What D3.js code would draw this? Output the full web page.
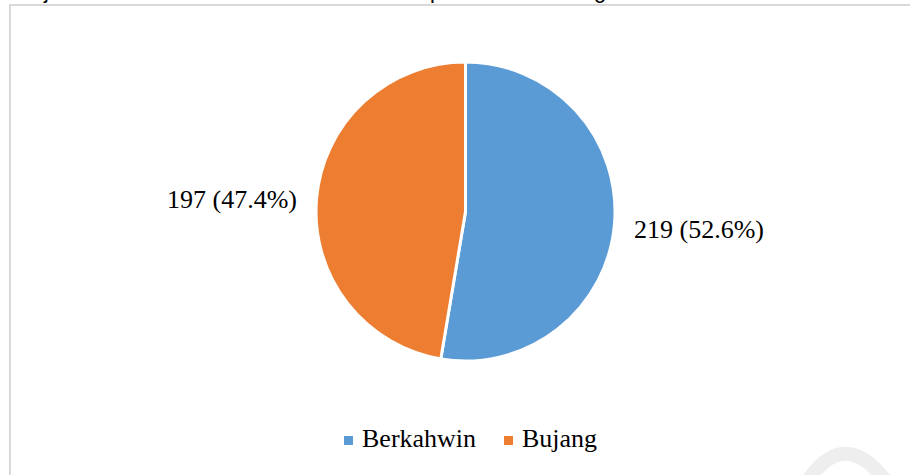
<!DOCTYPE html>
<html><head><meta charset="utf-8">
<script src="https://cdn.jsdelivr.net/npm/d3@7"></script>
<style>html,body{margin:0;padding:0;background:#fff;overflow:hidden}</style>
</head><body>
<svg id="c" width="912" height="475"></svg>
<script>
const categories = ["Berkahwin", "Bujang"];
const values = [219, 197];
const percents = ["52.6%", "47.4%"];
const colors = ["#5b9bd5", "#ed7d31"];

const svg = d3.select("#c");
const W = 912, H = 475;
svg.append("rect").attr("width", W).attr("height", H).attr("fill", "#fff");

// cut-off title descenders above the frame
const topFrag = svg.append("g").attr("font-family", "Liberation Sans, Arial, sans-serif").attr("font-size", 22).attr("fill", "#000");
[["j", 44], ["p", 430], ["g", 594]].forEach(([t, x]) => {
  topFrag.append("text").attr("x", x).attr("y", -2).text(t);
});

// frame
svg.append("path").attr("d", `M10,${H} L10,5 L910,5`).attr("fill", "none")
  .attr("stroke", "#d9d9d9").attr("stroke-width", 2);

const cx = 465.5, cy = 211.5, r = 149.5;
const pie = d3.pie().sort(null).value(d => d)(values);
const arc = d3.arc().innerRadius(0).outerRadius(r);
const g = svg.append("g").attr("transform", `translate(${cx},${cy})`);
g.selectAll("path").data(pie).join("path")
  .attr("d", arc).attr("fill", (d, i) => colors[i])
  .attr("stroke", "#fff").attr("stroke-width", 3).attr("stroke-linejoin", "round");

// data labels
const labelPos = [{x: 634, y: 238, anchor: "start"}, {x: 297, y: 208, anchor: "end"}];
svg.selectAll("text.lbl").data(pie).join("text").attr("class", "lbl")
  .attr("x", (d, i) => labelPos[i].x).attr("y", (d, i) => labelPos[i].y)
  .attr("text-anchor", (d, i) => labelPos[i].anchor)
  .attr("font-family", "Liberation Serif, Times New Roman, serif").attr("font-size", 26)
  .attr("fill", "#000")
  .text((d, i) => `${values[i]} (${percents[i]})`);

// legend
const legX = [344, 504];
const leg = svg.append("g");
categories.forEach((c, i) => {
  leg.append("rect").attr("x", legX[i]).attr("y", 436).attr("width", 9).attr("height", 9).attr("fill", colors[i]);
  leg.append("text").attr("x", legX[i] + 18).attr("y", 447)
    .attr("font-family", "Liberation Serif, Times New Roman, serif").attr("font-size", 26)
    .attr("fill", "#000").text(c);
});

// faint watermark arc bottom-right
svg.append("path").attr("d", "M805,485 Q843,425 885,480").attr("fill", "none")
  .attr("stroke", "#eeeeee").attr("stroke-width", 14);
</script>
</body></html>
